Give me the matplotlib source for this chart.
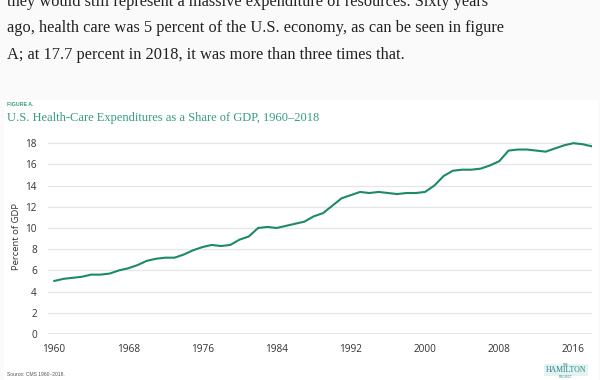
import matplotlib
matplotlib.use("Agg")
import matplotlib.pyplot as plt
from matplotlib.patches import Rectangle

# CMS national health expenditures as share of GDP
years = list(range(1960, 2019))
share = [
    5.0, 5.2, 5.3, 5.4, 5.6, 5.6, 5.7, 6.0, 6.2, 6.5,
    6.9, 7.1, 7.2, 7.2, 7.5, 7.9, 8.2, 8.4, 8.3, 8.4,
    8.9, 9.2, 10.0, 10.1, 10.0, 10.2, 10.4, 10.6, 11.1, 11.4,
    12.1, 12.8, 13.1, 13.4, 13.3, 13.4, 13.3, 13.2, 13.3, 13.3,
    13.4, 14.0, 14.9, 15.4, 15.5, 15.5, 15.6, 15.9, 16.3, 17.3,
    17.4, 17.4, 17.3, 17.2, 17.5, 17.8, 18.0, 17.9, 17.7,
]
x_ticks = [1960, 1968, 1976, 1984, 1992, 2000, 2008, 2016]
y_ticks = [0, 2, 4, 6, 8, 10, 12, 14, 16, 18]

W, H = 600, 380
TEAL = "#1b8a6b"
TITLE_TEAL = "#359c80"


def fx(px):
    return px / W


def fy(py):
    return 1 - py / H


fig = plt.figure(figsize=(6, 3.8), dpi=100)
fig.patch.set_facecolor("#fafafa")

# white chart panel
fig.add_artist(Rectangle((fx(4), 0), fx(594), fy(100), transform=fig.transFigure,
                         facecolor="white", edgecolor="none", zorder=0))

# article text above the figure (first line is cut by the screenshot edge)
body = [
    "they would still represent a massive expenditure of resources. Sixty years",
    "ago, health care was 5 percent of the U.S. economy, as can be seen in figure",
    "A; at 17.7 percent in 2018, it was more than three times that.",
]
for i, line in enumerate(body):
    fig.text(fx(7), fy(6 + 26.5 * i), line, family="Liberation Serif", fontsize=11.8,
             color="#222222", va="baseline", ha="left")

fig.text(fx(7), fy(106), "FIGURE A.", family="Liberation Sans", fontsize=3.8,
         fontweight="bold", color=TITLE_TEAL, va="baseline")
fig.text(fx(7), fy(121), "U.S. Health-Care Expenditures as a Share of GDP, 1960\u20132018",
         family="Liberation Serif", fontsize=9.0, color=TITLE_TEAL, va="baseline")
fig.text(fx(7), fy(376), "Source: CMS 1960\u20132018.", family="Liberation Sans",
         fontsize=3.6, color="#555555", va="baseline")

# Hamilton Project mark
fig.text(fx(566), fy(372), "HAMILTON", family="Liberation Serif", fontsize=5.6,
         color="#2f7f8a", ha="center", va="baseline",
         bbox=dict(boxstyle="square,pad=0.25", facecolor="#e3f3ef", edgecolor="none"))
fig.text(fx(566), fy(365.5), "THE", family="Liberation Sans", fontsize=2.2,
         color="#2f7f8a", ha="center", va="baseline")
fig.text(fx(566), fy(377.5), "PROJECT", family="Liberation Sans", fontsize=2.2,
         color="#2f7f8a", ha="center", va="baseline")

# plot area
ax = fig.add_axes([fx(48), fy(334), fx(592 - 48), (334 - 140) / H])
ax.set_facecolor("none")
ax.plot(years, share, color=TEAL, lw=1.5, solid_capstyle="round", zorder=3)

ax.set_xlim(1959.35, 2018.0)
ax.set_ylim(0, 18.3)
ax.set_xticks(x_ticks)
ax.set_yticks(y_ticks)
ax.grid(axis="y", color="#e6e6e6", lw=0.9)
ax.axhline(0, color="#9a9a9a", lw=1.0, zorder=2)
for side in ["top", "right", "left", "bottom"]:
    ax.spines[side].set_visible(False)
ax.tick_params(length=0, labelsize=7.2, labelcolor="#333333")
ax.tick_params(axis="y", pad=8)
ax.tick_params(axis="x", pad=7)
for lab in ax.get_xticklabels() + ax.get_yticklabels():
    lab.set_family("Open Sans")
ax.set_ylabel("Percent of GDP", family="Open Sans", fontsize=6.8, color="#333333",
              labelpad=3)

fig.savefig("out.png", dpi=100, facecolor=fig.get_facecolor())
